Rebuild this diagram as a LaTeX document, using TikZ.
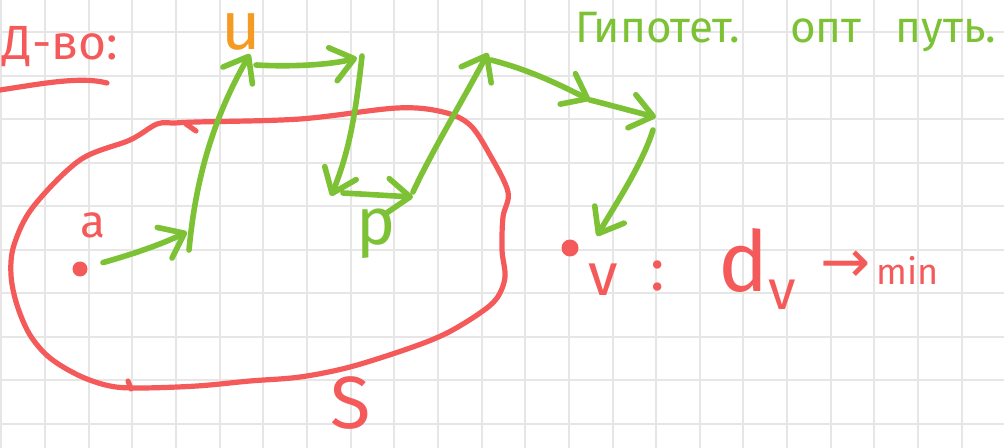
\documentclass[tikz,border=0pt]{standalone}
\usepackage{fontspec}
\setmainfont{Fira Sans}
\newfontfamily\arrowfont{DejaVu Sans}
\usetikzlibrary{arrows.meta}
\definecolor{gridc}{HTML}{E6E6E6}
\definecolor{penG}{HTML}{7CC234}
\definecolor{penR}{HTML}{F55A5A}
\definecolor{penO}{HTML}{F59A23}
\newcommand{\fs}[1]{\fontsize{#1}{#1}\selectfont}
\begin{document}
\begin{tikzpicture}[x=0.5pt,y=-0.5pt,
  gridline/.style={draw=gridc, line width=1pt},
  gpen/.style={draw=penG, line width=2.8pt, line cap=round, line join=round},
  rpen/.style={draw=penR, line width=2.6pt, line cap=round, line join=round},
  arr/.style={-{Straight Barb[length=11pt,width=17pt,round]}},
  dot/.style={circle, fill=penR, draw=none, inner sep=0pt, minimum size=#1},
  lbl/.style={inner sep=0pt, outer sep=0pt}]
\useasboundingbox (0,0) rectangle (1004,448);
\fill[white] (0,0) rectangle (1004,448);
% grid
\foreach \k in {0,...,22} \draw[gridline] ({1.4+43.65*\k},0) -- ({1.4+43.65*\k},448);
\foreach \k in {1,...,10} \draw[gridline] (0,{-11.5+43.55*\k}) -- (1004,{-11.5+43.55*\k});

% region S boundary
\draw[rpen] plot[smooth cycle, tension=0.55] coordinates {(197,122) (300,119) (397,108) (443,112) (470,125) (490,155) (508,192) (503,217) (502,250) (505,277) (497,298) (480,313) (447,333) (410,348) (350,367) (300,377) (250,381) (197,386) (140,388) (110,386) (80,376) (50,358) (30,335) (17,305) (11,275) (14,245) (33,207) (80,160) (130,140) (157,124) (175,123)};
\draw[rpen] (186,124) -- (196,131);
\draw[rpen] (131,389) -- (128,381);

% title texts
\node[lbl, text=penR, anchor=base west, font=\fs{24}] (proof) at (3,60) {Д-во:};
\coordinate (ul1) at (0,90);
\coordinate (ul2) at (107,83);
\draw[rpen] (ul1) .. controls (40,84) and (80,76) .. (ul2);
\node[lbl, text=penG, anchor=base west, font=\fs{22}] (title) at (575,43) {Гипотет.\hspace{25pt}опт\hspace{17pt}путь.};

% points and labels
\node[dot=7.5pt] (a) at (80,269) {};
\node[dot=8.5pt] (v) at (570,248) {};
\node[lbl, text=penR, anchor=base, font=\fs{23}] (alab) at (93,238) {a};
\node[lbl, text=penO, anchor=base, font=\fs{34}] (ulab) at (241,50) {u};
\node[lbl, text=penG, anchor=base, font=\fs{33}] (plab) at (376,245) {p};
\node[lbl, text=penR, anchor=base, font=\fs{30}] (vlab) at (603,295) {v};
\node[lbl, text=penR, anchor=base, font=\fs{30}] (colon) at (658,290) {:};
\node[lbl, text=penR, anchor=base west, font=\fs{42}] (dv) at (718,292) {d\raisebox{-9pt}{\fs{28}v}};
\node[lbl, text=penR, anchor=base west, font=\fs{18}] (min) at (820,285) {\raisebox{1pt}{\arrowfont\fs{30}→}\hspace{3pt}min};
\node[lbl, text=penR, anchor=base, font=\fs{37}] (S) at (351,428) {S};

% path coordinates
\coordinate (A1) at (187,232);
\coordinate (A2) at (189,250);
\coordinate (U) at (250,54);
\coordinate (U2) at (256,65);
\coordinate (UR) at (357,58);
\coordinate (UR2) at (362,56);
\coordinate (PL) at (331,196);
\coordinate (PL2) at (343,193);
\coordinate (PR) at (413,197);
\coordinate (PR2) at (413,192);
\coordinate (T) at (488,53);
\coordinate (T2) at (491,60);
\coordinate (W1) at (590,100);
\coordinate (W2) at (656,117);
\coordinate (W3) at (653,130);
\coordinate (VT) at (597,236);

% hypothetical optimal path
\draw[gpen,arr,shorten <=8pt] (a) .. controls (130,255) and (160,245) .. (A1);
\draw[gpen,arr] (A2) .. controls (196,175) and (215,115) .. (U);
\draw[gpen,arr] (U2) .. controls (290,67) and (330,65) .. (UR);
\draw[gpen,arr] (UR2) .. controls (356,110) and (350,150) .. (PL);
\draw[gpen,arr] (PL2) -- (PR);
\draw[gpen,arr] (PR2) .. controls (430,155) and (460,105) .. (T);
\draw[gpen,arr] (T2) .. controls (530,70) and (560,85) .. (W1);
\draw[gpen,arr] (W1) .. controls (610,105) and (635,112) .. (W2);
\draw[gpen,arr] (W3) .. controls (642,165) and (615,205) .. (VT);
\end{tikzpicture}
\end{document}
